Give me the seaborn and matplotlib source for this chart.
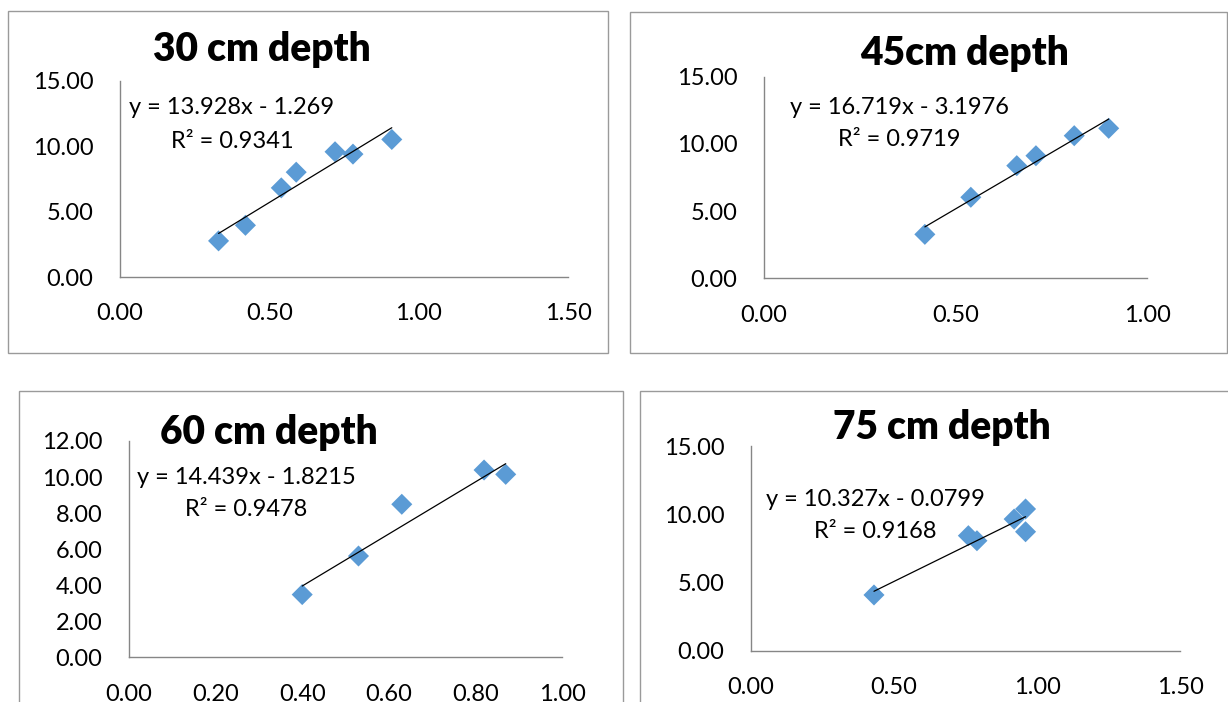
import numpy as np
import pandas as pd
import matplotlib
matplotlib.use('Agg')
import matplotlib.pyplot as plt
import seaborn as sns
from matplotlib.patches import Rectangle

sns.set_style('white')
plt.rcParams['font.family'] = ['Lato', 'DejaVu Sans']

# values
x30 = [0.33, 0.42, 0.54, 0.59, 0.72, 0.78, 0.91]
y30 = [2.76, 3.95, 6.81, 8.01, 9.57, 9.39, 10.51]
x45 = [0.42, 0.54, 0.66, 0.71, 0.81, 0.90]
y45 = [3.27, 6.03, 8.38, 9.12, 10.61, 11.16]
x60 = [0.40, 0.53, 0.63, 0.82, 0.87]
y60 = [3.48, 5.62, 8.49, 10.39, 10.15]
x75 = [0.43, 0.76, 0.79, 0.92, 0.96, 0.96]
y75 = [4.09, 8.44, 8.07, 9.66, 10.40, 8.73]

titles    = ['30 cm depth', '45cm depth', '60 cm depth', '75 cm depth']
slopes    = [13.928, 16.719, 14.439, 10.327]
intercept = [-1.269, -3.1976, -1.8215, -0.0799]
r2        = ['0.9341', '0.9719', '0.9478', '0.9168']
eq_txt    = ['y = 13.928x - 1.269', 'y = 16.719x - 3.1976',
             'y = 14.439x - 1.8215', 'y = 10.327x - 0.0799']
xticks    = [[0, 0.5, 1.0, 1.5], [0, 0.5, 1.0],
             [0, 0.2, 0.4, 0.6, 0.8, 1.0], [0, 0.5, 1.0, 1.5]]
yticks    = [[0, 5, 10, 15], [0, 5, 10, 15],
             [0, 2, 4, 6, 8, 10, 12], [0, 5, 10, 15]]

W, H = 1228, 702
fig = plt.figure(figsize=(W / 100, H / 100), dpi=100)

def fx(px): return px / W
def fy(py): return 1 - py / H

# chart-area borders (left, top, right, bottom) in pixels
boxes = [(8, 11, 608, 353), (630, 12, 1227, 353),
         (19, 391, 623, 720), (640, 391, 1240, 720)]
for l, t, r, b in boxes:
    fig.patches.append(Rectangle((fx(l), fy(b)), fx(r - l), (b - t) / H,
                                 transform=fig.transFigure, fill=False,
                                 edgecolor='#9a9a9a', linewidth=1.0))

# plot areas (left, top, right, bottom) in pixels
areas = [(120, 80.7, 568, 277), (764, 76.7, 1147, 278.3),
         (129, 441, 562, 657.3), (751, 446.3, 1180, 650.7)]
title_pos = [(262, 50), (965, 53), (269, 433), (942, 428)]
eq_pos    = [(232, 108, 141), (899, 108, 140), (246, 478, 510), (875, 500, 532)]

data = [(x30, y30), (x45, y45), (x60, y60), (x75, y75)]

for i, (xs, ys) in enumerate(data):
    l, t, r, b = areas[i]
    ax = fig.add_axes([fx(l), fy(b), fx(r - l), (b - t) / H])
    df = pd.DataFrame({'x': xs, 'y': ys})
    sns.scatterplot(data=df, x='x', y='y', marker='D', s=115, color='#5B9BD5',
                    edgecolor='none', ax=ax, zorder=3, clip_on=False)
    xl = np.array([min(xs), max(xs)])
    ax.plot(xl, slopes[i] * xl + intercept[i], color='black', lw=0.9, zorder=4)

    ax.set_xlim(xticks[i][0], xticks[i][-1])
    ax.set_ylim(yticks[i][0], yticks[i][-1])
    ax.set_xticks(xticks[i])
    ax.set_yticks(yticks[i])
    ax.set_xticklabels([f'{v:.2f}' for v in xticks[i]])
    ax.set_yticklabels([f'{v:.2f}' for v in yticks[i]])
    ax.set_xlabel('')
    ax.set_ylabel('')
    for s in ['top', 'right']:
        ax.spines[s].set_visible(False)
    for s in ['left', 'bottom']:
        ax.spines[s].set_color('#868686')
        ax.spines[s].set_linewidth(1.0)
    ax.tick_params(axis='both', direction='out', length=6, width=1.0,
                   color='#868686', labelsize=17, labelcolor='black', pad=13)
    ax.set_facecolor('none')

    tx, ty = title_pos[i]
    fig.text(fx(tx), fy(ty), titles[i], ha='center', va='center',
             fontsize=28, fontweight='heavy', color='black')
    ex, ey1, ey2 = eq_pos[i]
    fig.text(fx(ex), fy(ey1), eq_txt[i], ha='center', va='center',
             fontsize=17, color='black')
    fig.text(fx(ex), fy(ey2), f'R² = {r2[i]}', ha='center', va='center',
             fontsize=17, color='black')

fig.savefig('out.png', dpi=100)
